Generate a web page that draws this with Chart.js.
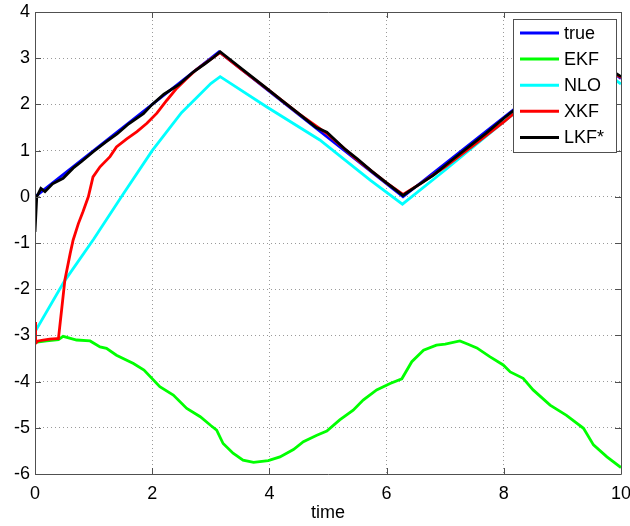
<!DOCTYPE html>
<html>
<head>
<meta charset="utf-8">
<script src="https://cdn.jsdelivr.net/npm/chart.js@4/dist/chart.umd.min.js"></script>
<style>
  html, body { margin: 0; padding: 0; background: #fff; }
  #wrap { width: 630px; height: 526px; }
</style>
</head>
<body>
<div id="wrap"><canvas id="plot" width="630" height="526"></canvas></div>
<script>
// series names and colours
const names = ['true', 'EKF', 'NLO', 'XKF', 'LKF*'];
const colors = ['#0000ff', '#00ff00', '#00ffff', '#ff0000', '#000000'];

// true
const trueX = [0, 3.14, 6.28, 9.42, 10];
const trueY = [0, 3.14, 0, 3.14, 2.56];

// EKF
const ekfX = [0, 0.2, 0.40, 0.48, 0.71, 0.94, 1.11, 1.22, 1.39, 1.68, 1.86, 2.13, 2.36, 2.59, 2.82, 3.0, 3.10, 3.21, 3.38, 3.55, 3.73, 3.98, 4.18, 4.41, 4.58, 4.81, 4.98, 5.20, 5.43, 5.60, 5.83, 6.06, 6.26, 6.43, 6.63, 6.85, 7.00, 7.25, 7.39, 7.54, 7.76, 7.99, 8.11, 8.33, 8.50, 8.79, 9.07, 9.36, 9.53, 9.76, 10];
const ekfY = [-3.15, -3.12, -3.09, -3.02, -3.10, -3.12, -3.25, -3.28, -3.43, -3.61, -3.75, -4.11, -4.29, -4.58, -4.76, -4.95, -5.05, -5.34, -5.55, -5.70, -5.75, -5.71, -5.63, -5.47, -5.30, -5.16, -5.07, -4.83, -4.62, -4.40, -4.18, -4.04, -3.94, -3.57, -3.32, -3.21, -3.19, -3.12, -3.19, -3.27, -3.46, -3.64, -3.79, -3.93, -4.18, -4.51, -4.73, -5.01, -5.37, -5.63, -5.86];

// NLO
const nloX = [0, 0.5, 1.0, 1.5, 2.0, 2.5, 3.0, 3.16, 3.95, 4.86, 5.72, 6.27, 7.0, 8.1, 9.42, 9.95, 10];
const nloY = [-2.92, -1.83, -0.92, 0.05, 1.0, 1.82, 2.45, 2.60, 1.95, 1.23, 0.36, -0.16, 0.58, 1.73, 3.0, 2.49, 2.44];

// XKF
const xkfX = [0, 0.01, 0.05, 0.14, 0.25, 0.37, 0.40, 0.46, 0.51, 0.60, 0.65, 0.74, 0.82, 0.91, 0.99, 1.11, 1.28, 1.39, 1.56, 1.74, 1.91, 2.08, 2.25, 2.42, 2.59, 2.75, 2.99, 3.16, 3.5, 4.0, 4.5, 5.0, 5.5, 6.0, 6.28, 6.6, 7.0, 7.5, 8.0, 8.5, 9.0, 9.42, 10];
const xkfY = [-2.71, -3.17, -3.12, -3.10, -3.08, -3.07, -3.07, -2.38, -1.80, -1.23, -0.94, -0.58, -0.32, 0.0, 0.43, 0.65, 0.87, 1.08, 1.25, 1.41, 1.59, 1.81, 2.09, 2.35, 2.56, 2.75, 2.97, 3.12, 2.78, 2.30, 1.80, 1.35, 0.80, 0.30, 0.05, 0.30, 0.65, 1.13, 1.62, 2.15, 2.65, 3.08, 2.58];

// LKF*
const lkfX = [0, 0.03, 0.1, 0.17, 0.3, 0.48, 0.65, 0.8, 1.0, 1.2, 1.4, 1.6, 1.85, 2.0, 2.2, 2.45, 2.7, 2.9, 3.05, 3.16, 3.35, 3.6, 3.9, 4.2, 4.5, 4.8, 4.98, 5.3, 5.5, 5.75, 6.0, 6.28, 6.5, 6.8, 7.1, 7.4, 7.7, 8.0, 8.3, 8.7, 9.0, 9.42, 9.7, 10];
const lkfY = [-0.76, 0.0, 0.18, 0.11, 0.28, 0.40, 0.62, 0.77, 0.98, 1.18, 1.36, 1.58, 1.80, 2.0, 2.22, 2.42, 2.70, 2.88, 3.02, 3.14, 2.95, 2.70, 2.40, 2.10, 1.80, 1.50, 1.40, 1.02, 0.82, 0.55, 0.30, 0.03, 0.22, 0.47, 0.78, 1.08, 1.38, 1.70, 2.0, 2.42, 2.72, 3.12, 2.85, 2.60];

// axis ticks
const xTicks = [0, 2, 4, 6, 8, 10];
const yTicks = [-6, -5, -4, -3, -2, -1, 0, 1, 2, 3, 4];

const allX = [trueX, ekfX, nloX, xkfX, lkfX];
const allY = [trueY, ekfY, nloY, xkfY, lkfY];

function pts(xs, ys) {
  return xs.map((x, i) => ({ x: x, y: ys[i] }));
}

const FONT = '"Liberation Sans", Arial, Helvetica, sans-serif';
const AXIS = '#505050';

// box round the plot with inward ticks, like matlab
const boxPlugin = {
  id: 'box',
  afterDatasetsDraw(chart) {
    const ctx = chart.ctx;
    const a = chart.chartArea;
    const sx = chart.scales.x, sy = chart.scales.y;
    ctx.save();
    ctx.strokeStyle = AXIS;
    ctx.lineWidth = 1;
    ctx.beginPath();
    ctx.rect(Math.round(a.left) + 0.5, Math.round(a.top) + 0.5, Math.round(a.right - a.left), Math.round(a.bottom - a.top));
    xTicks.forEach(v => {
      const px = Math.round(sx.getPixelForValue(v)) + 0.5;
      ctx.moveTo(px, a.bottom); ctx.lineTo(px, a.bottom - 6);
      ctx.moveTo(px, a.top); ctx.lineTo(px, a.top + 6);
    });
    yTicks.forEach(v => {
      const py = Math.round(sy.getPixelForValue(v)) + 0.5;
      ctx.moveTo(a.left, py); ctx.lineTo(a.left + 6, py);
      ctx.moveTo(a.right, py); ctx.lineTo(a.right - 6, py);
    });
    ctx.stroke();
    ctx.restore();
  },
  afterDraw(chart) {
    // legend box
    const ctx = chart.ctx;
    const a = chart.chartArea;
    const w = 103, h = 133;
    const x0 = Math.round(a.right - 5 - w), y0 = Math.round(a.top + 7);
    ctx.save();
    ctx.fillStyle = '#fff';
    ctx.fillRect(x0, y0, w, h);
    ctx.strokeStyle = AXIS;
    ctx.lineWidth = 1;
    ctx.strokeRect(x0 + 0.5, y0 + 0.5, w, h);
    ctx.font = '18px ' + FONT;
    ctx.textBaseline = 'middle';
    names.forEach((n, i) => {
      const yy = y0 + 14 + i * 26.1;
      ctx.strokeStyle = colors[i];
      ctx.lineWidth = 3;
      ctx.beginPath();
      ctx.moveTo(x0 + 7, yy);
      ctx.lineTo(x0 + 46, yy);
      ctx.stroke();
      ctx.fillStyle = '#000';
      ctx.fillText(n, x0 + 51, yy + 1);
    });
    ctx.restore();
  }
};

const datasets = names.map((n, i) => ({
  label: n,
  data: pts(allX[i], allY[i]),
  borderColor: colors[i],
  backgroundColor: colors[i],
  borderWidth: 2.8,
  showLine: true,
  pointRadius: 0,
  tension: 0,
  fill: false,
  order: names.length - i
}));

new Chart(document.getElementById('plot'), {
  type: 'scatter',
  data: { datasets: datasets },
  options: {
    responsive: false,
    animation: false,
    devicePixelRatio: 1,
    layout: { padding: { top: 12, right: 9, left: 0, bottom: 0 } },
    plugins: {
      legend: { display: false },
      tooltip: { enabled: false }
    },
    scales: {
      x: {
        type: 'linear',
        min: 0, max: 10,
        afterBuildTicks: s => { s.ticks = xTicks.map(v => ({ value: v })); },
        afterFit: s => { s.height = 52; s.paddingLeft = 0; s.paddingRight = 0; },
        grid: { color: '#9a9a9a', lineWidth: 1, drawTicks: false },
        border: { display: false, dash: [1, 3] },
        ticks: { color: '#000', padding: 9, maxRotation: 0, autoSkip: false, font: { family: FONT, size: 18 } },
        title: { display: true, text: 'time', color: '#000', padding: { top: 0, bottom: 2 }, font: { family: FONT, size: 18 } }
      },
      y: {
        type: 'linear',
        min: -6, max: 4,
        afterBuildTicks: s => { s.ticks = yTicks.map(v => ({ value: v })); },
        afterFit: s => { s.width = 35; s.paddingTop = 0; s.paddingBottom = 0; },
        grid: { color: '#9a9a9a', lineWidth: 1, drawTicks: false },
        border: { display: false, dash: [1, 3] },
        ticks: { color: '#000', padding: 5, autoSkip: false, font: { family: FONT, size: 18 } }
      }
    }
  },
  plugins: [boxPlugin]
});
</script>
</body>
</html>
